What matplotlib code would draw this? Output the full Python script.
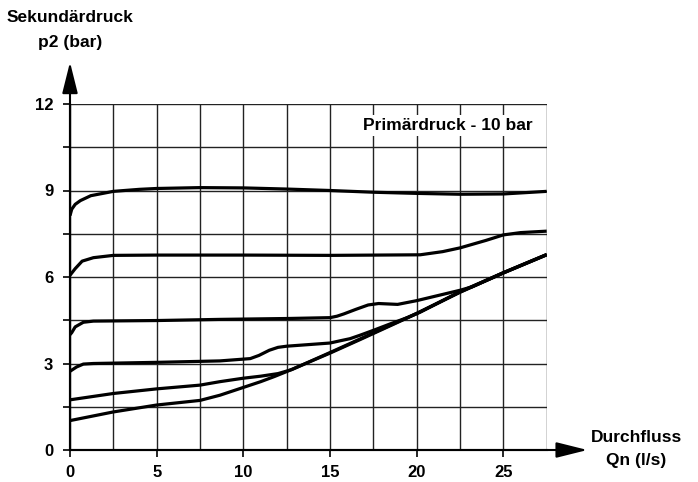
#!/usr/bin/env python3
"""Sekundärdruck over Durchfluss at 10 bar primary pressure."""
import matplotlib
matplotlib.use("Agg")
import matplotlib.pyplot as plt
from matplotlib.ticker import MultipleLocator, FixedLocator, NullFormatter

plt.rcParams["font.family"] = ["Liberation Sans", "DejaVu Sans"]
plt.rcParams["font.weight"] = "bold"

# curves, top to bottom (flow l/s, pressure bar)
x_a = [0, 0.1, 0.3, 0.6, 1.2, 2.5, 4, 5, 7.5, 10, 12.5, 15, 17.5, 20, 22.5, 25, 27.5]
y_a = [8.13, 8.35, 8.52, 8.65, 8.82, 8.97, 9.04, 9.07, 9.1, 9.09, 9.05, 9.0, 8.94, 8.9, 8.87, 8.88, 8.97]

x_b = [0, 0.3, 0.7, 1.35, 2.5, 5, 10, 15, 20.2, 21.5, 22.5, 24, 25, 26, 27.5]
y_b = [6.06, 6.29, 6.55, 6.67, 6.75, 6.76, 6.76, 6.75, 6.77, 6.88, 7.01, 7.27, 7.46, 7.54, 7.59]

x_c = [0, 0.1, 0.3, 0.77, 1.35, 5, 8.65, 12.5, 15, 15.4, 15.8, 16.5, 17.2, 17.8, 18.9, 20, 22.5, 23.2, 25, 27.5]
y_c = [4.0, 4.07, 4.27, 4.43, 4.47, 4.49, 4.53, 4.56, 4.59, 4.64, 4.72, 4.88, 5.03, 5.08, 5.05, 5.18, 5.54, 5.66, 6.15, 6.78]

x_d = [0, 0.38, 0.77, 1.35, 5, 8.65, 10.4, 10.9, 11.5, 12, 12.5, 15, 15.6, 16.15, 16.73, 17.5, 18.5, 19.5, 20.2, 22.5, 25, 27.5]
y_d = [2.73, 2.88, 2.98, 3.0, 3.04, 3.09, 3.17, 3.28, 3.46, 3.56, 3.6, 3.71, 3.79, 3.86, 3.98, 4.15, 4.38, 4.6, 4.78, 5.49, 6.15, 6.78]

x_e = [0, 2.5, 5, 7.5, 8.65, 10, 11, 12, 12.8, 15, 17.5, 20, 22.5, 25, 27.5]
y_e = [1.74, 1.96, 2.12, 2.25, 2.37, 2.49, 2.56, 2.65, 2.79, 3.38, 4.06, 4.74, 5.48, 6.14, 6.77]

x_f = [0, 2.5, 5, 7.5, 8.65, 10, 11, 11.8, 12.5, 15, 16.7, 17.5, 20, 22.5, 25, 27.5]
y_f = [1.02, 1.32, 1.56, 1.72, 1.9, 2.17, 2.37, 2.55, 2.72, 3.36, 3.82, 4.04, 4.73, 5.47, 6.14, 6.77]

curves = [(x_a, y_a), (x_b, y_b), (x_c, y_c), (x_d, y_d), (x_e, y_e), (x_f, y_f)]

x_labels = [0, 5, 10, 15, 20, 25]
y_labels = [0, 3, 6, 9, 12]

fig = plt.figure(figsize=(6.98, 4.82), dpi=100)
ax = fig.add_axes([70 / 698, 1 - 450 / 482, 476.7 / 698, 346 / 482])
ax.set_xlim(0, 27.5)
ax.set_ylim(0, 12)

ax.xaxis.set_major_locator(FixedLocator(x_labels))
ax.xaxis.set_minor_locator(MultipleLocator(2.5))
ax.yaxis.set_major_locator(FixedLocator(y_labels))
ax.yaxis.set_minor_locator(MultipleLocator(1.5))
ax.xaxis.set_minor_formatter(NullFormatter())
ax.yaxis.set_minor_formatter(NullFormatter())
ax.grid(True, which="both", color="#222222", lw=1.0)
ax.set_axisbelow(True)

ax.tick_params(axis="x", which="major", length=5, width=1.2, pad=6, labelsize=12)
ax.tick_params(axis="x", which="minor", length=0)
ax.tick_params(axis="y", which="both", length=5, width=1.2, pad=7, labelsize=12)
for lab in ax.get_xticklabels() + ax.get_yticklabels():
    lab.set_fontweight("bold")

for s in ("top", "right"):
    ax.spines[s].set_visible(False)
for s in ("left", "bottom"):
    ax.spines[s].set_linewidth(1.5)

for xs, ys in curves:
    ax.plot(xs, ys, color="black", lw=2.3, solid_capstyle="butt", solid_joinstyle="round")

arrow = dict(arrowstyle="-|>,head_length=1.6,head_width=0.4", color="black",
             lw=1.5, mutation_scale=12, shrinkA=0, shrinkB=0)
ax.annotate("", xy=(0, 13.45), xytext=(0, 0), arrowprops=arrow, annotation_clip=False)
ax.annotate("", xy=(29.85, 0), xytext=(0, 0), arrowprops=arrow, annotation_clip=False)

ax.text(21.8, 11.25, "Primärdruck - 10 bar", ha="center", va="center",
        fontsize=12.5, fontweight="bold",
        bbox=dict(facecolor="white", edgecolor="none", pad=2))

fig.text(70 / 698, 1 - 17 / 482, "Sekundärdruck", ha="center", va="center",
         fontsize=12.5, fontweight="bold")
fig.text(70 / 698, 1 - 42 / 482, "p2 (bar)", ha="center", va="center",
         fontsize=12.5, fontweight="bold")
fig.text(636 / 698, 1 - 438 / 482, "Durchfluss", ha="center", va="center",
         fontsize=12.5, fontweight="bold")
fig.text(636 / 698, 1 - 460 / 482, "Qn (l/s)", ha="center", va="center",
         fontsize=12.5, fontweight="bold")

fig.savefig("out.png", dpi=100)
